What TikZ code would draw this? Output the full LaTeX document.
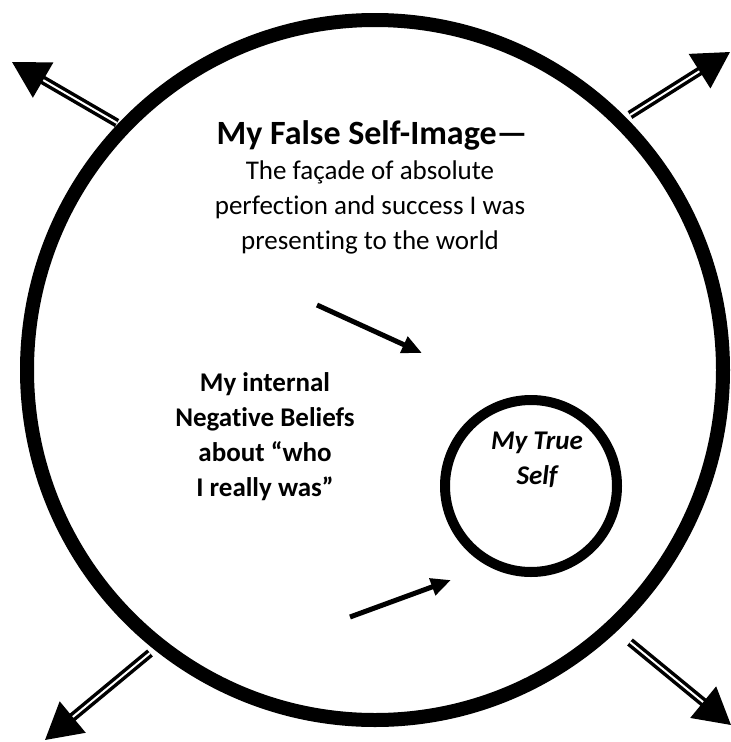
\documentclass[tikz,border=0pt]{standalone}
\usepackage{fontspec}
\setmainfont{Carlito}[Ligatures=NoCommon]
\usepackage{tikz}
\usetikzlibrary{shapes,arrows.meta,positioning}

\begin{document}
\begin{tikzpicture}[x=1pt, y=-1pt,
    ring/.style={draw, ellipse, inner sep=0pt},
    headline/.style={align=center, inner sep=0pt, font=\fontsize{34}{40}\selectfont\bfseries},
    words/.style={align=center, inner sep=0pt, font=\fontsize{27}{35}\selectfont},
    boldwords/.style={words, font=\fontsize{27}{35}\selectfont\bfseries},
    slantwords/.style={words, font=\fontsize{27}{35}\selectfont\bfseries\itshape},
    outarrow/.style={line width=3.5pt, double=white, double distance=2pt, -{Triangle[length=36pt,width=40pt]}},
    inarrow/.style={line width=5pt, -{Triangle[length=20pt,width=17pt]}}]
  \useasboundingbox (0,0) rectangle (731,742);
  % arrows pushing the false image outwards
  \coordinate (tlstart) at (117,123);
  \coordinate (tlend) at (12,62);
  \coordinate (trstart) at (630,115);
  \coordinate (trend) at (730,52);
  \coordinate (blstart) at (150,653);
  \coordinate (blend) at (45,740);
  \coordinate (brstart) at (630,642);
  \coordinate (brend) at (731,725);
  \draw[outarrow] (tlstart) -- (tlend);
  \draw[outarrow] (trstart) -- (trend);
  \draw[outarrow] (blstart) -- (blend);
  \draw[outarrow] (brstart) -- (brend);
  % the two selves
  \node[ring, line width=14pt, minimum width=696pt, minimum height=700pt] (falseself) at (375,370) {};
  \node[ring, circle, line width=10pt, minimum size=172pt] (trueself) at (531,486) {};
  \node[headline] (falsehead) at (372,135) {My False Self-Image—};
  \node[words] (falsetext) at (370,207) {The façade of absolute\\perfection and success I was\\presenting to the world};
  \node[boldwords] (beliefs) at (265,437) {My internal\\Negative Beliefs\\about “who\\I really was”};
  \node[slantwords] (truetext) at (537,460) {My True\\Self};
  % pressure on the true self
  \coordinate (upperfrom) at (317,305);
  \coordinate (upperto) at (422,353);
  \coordinate (lowerfrom) at (350,617);
  \coordinate (lowerto) at (451,580);
  \draw[inarrow] (upperfrom) -- (upperto);
  \draw[inarrow] (lowerfrom) -- (lowerto);
\end{tikzpicture}
\end{document}
